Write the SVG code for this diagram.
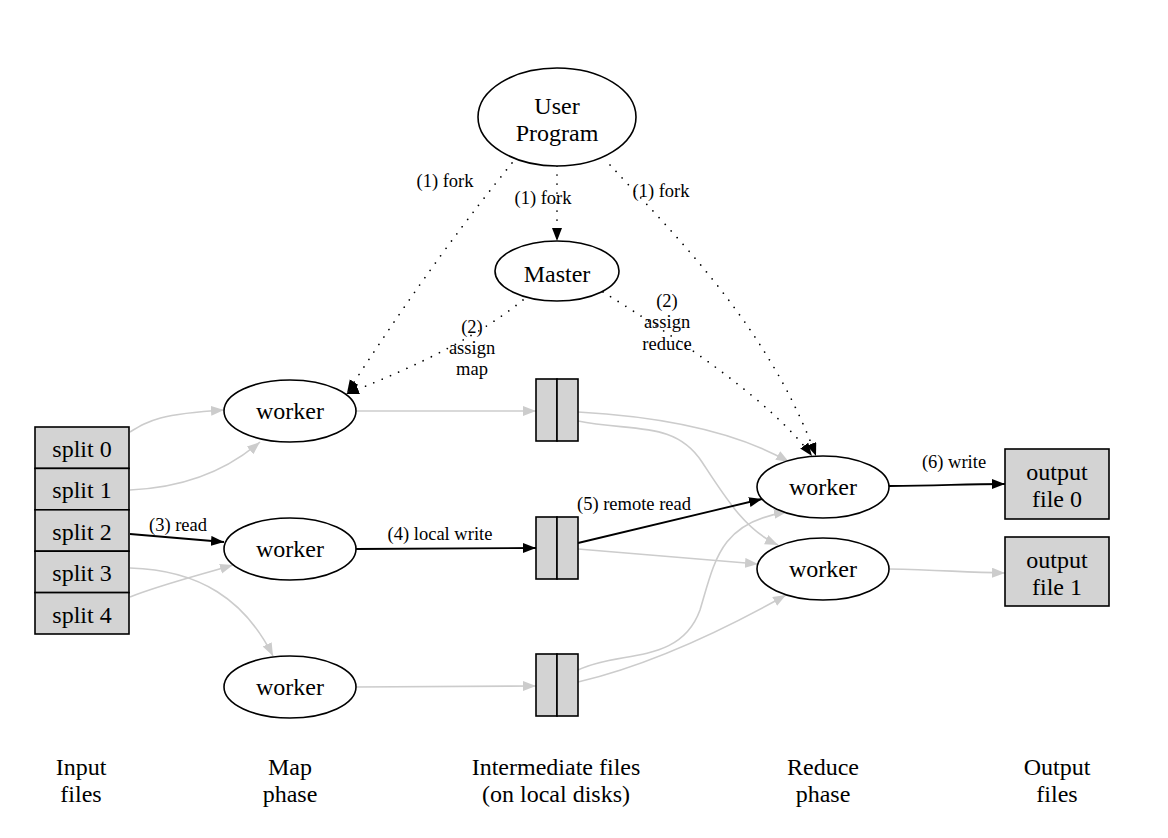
<svg xmlns="http://www.w3.org/2000/svg" width="1168" height="838" viewBox="0 0 1168 838">
<style>
text{font-family:"Liberation Serif","Times New Roman",serif;fill:#000}
.n{font-size:24px;text-anchor:middle}
.l{font-size:18.5px;text-anchor:middle}
.node{fill:#fff;stroke:#000;stroke-width:1.6}
.box{fill:#d3d3d3;stroke:#000;stroke-width:1.6}
.g{fill:none;stroke:#cccccc;stroke-width:1.6}
.b{fill:none;stroke:#000;stroke-width:1.8}
.d{fill:none;stroke:#000;stroke-width:1.7;stroke-dasharray:0.01 9;stroke-linecap:round}
</style>
<defs>
<marker id="ab" markerUnits="userSpaceOnUse" markerWidth="15" markerHeight="11" refX="13" refY="5" orient="auto"><path d="M0,0 L13,5 L0,10 z" fill="#000"/></marker>
<marker id="ag" markerUnits="userSpaceOnUse" markerWidth="15" markerHeight="11" refX="13" refY="5" orient="auto"><path d="M0,0 L13,5 L0,10 z" fill="#cccccc"/></marker>
</defs>
<rect width="1168" height="838" fill="#fff"/>

<g id="connectors">
<path class="d" d="M557,166 L557,241" marker-end="url(#ab)"/>
<path class="d" d="M512,163 C470,215 420,280 347,393" marker-end="url(#ab)"/>
<path class="d" d="M610,165 C680,240 770,330 816,456" marker-end="url(#ab)"/>
<path class="d" d="M523,300 C480,335 420,365 346,394" marker-end="url(#ab)"/>
<path class="d" d="M603,292 C680,340 770,400 812,456" marker-end="url(#ab)"/>

<path class="g" d="M130,432 C150,420 160,414 224,410" marker-end="url(#ag)"/>
<path class="g" d="M130,490 C180,488 225,472 260,442" marker-end="url(#ag)"/>
<path class="b" d="M130,534 L224,542" marker-end="url(#ab)"/>
<path class="g" d="M130,568 C200,570 245,600 273,656" marker-end="url(#ag)"/>
<path class="g" d="M130,597 C160,585 200,575 233,565" marker-end="url(#ag)"/>

<path class="g" d="M355,411 L536,411" marker-end="url(#ag)"/>
<path class="b" d="M355,549 L536,548" marker-end="url(#ab)"/>
<path class="g" d="M355,687 L536,686" marker-end="url(#ag)"/>

<path class="g" d="M578,412 C650,416 730,428 789,462" marker-end="url(#ag)"/>
<path class="g" d="M578,421 C630,432 675,420 702,462 C725,497 745,530 778,545" marker-end="url(#ag)"/>
<path class="b" d="M578,543 L762,499" marker-end="url(#ab)"/>
<path class="g" d="M578,549 L758,564" marker-end="url(#ag)"/>
<path class="g" d="M578,670 C620,650 680,665 700,610 C715,560 720,522 787,512" marker-end="url(#ag)"/>
<path class="g" d="M578,682 C650,665 720,632 786,595" marker-end="url(#ag)"/>

<path class="b" d="M889,486 C940,486 960,484 1005,484" marker-end="url(#ab)"/>
<path class="g" d="M889,569 C940,570 960,572 1005,573" marker-end="url(#ag)"/>

<text class="l" x="445" y="187">(1) fork</text>
<text class="l" x="543" y="204">(1) fork</text>
<text class="l" x="661" y="197">(1) fork</text>
<text class="l" x="472" y="333">(2)</text>
<text class="l" x="472" y="354">assign</text>
<text class="l" x="472" y="375">map</text>
<text class="l" x="667" y="307">(2)</text>
<text class="l" x="667" y="328">assign</text>
<text class="l" x="667" y="350">reduce</text>
<text class="l" x="178" y="531">(3) read</text>
<text class="l" x="440" y="540">(4) local write</text>
<text class="l" x="634" y="510">(5) remote read</text>
<text class="l" x="954" y="468">(6) write</text>
</g>

<g id="user-program">
<ellipse class="node" cx="557" cy="117" rx="79" ry="49"/>
<text class="n" x="557" y="114">User</text>
<text class="n" x="557" y="141">Program</text>
</g>
<g id="master">
<ellipse class="node" cx="557" cy="271" rx="62" ry="30"/>
<text class="n" x="557" y="282">Master</text>
</g>

<g id="input-files">
<rect class="box" x="35" y="427" width="94" height="41.4"/>
<rect class="box" x="35" y="468.4" width="94" height="41.4"/>
<rect class="box" x="35" y="509.8" width="94" height="41.4"/>
<rect class="box" x="35" y="551.2" width="94" height="41.4"/>
<rect class="box" x="35" y="592.6" width="94" height="41.4"/>
<text class="n" x="82" y="457">split 0</text>
<text class="n" x="82" y="498.4">split 1</text>
<text class="n" x="82" y="539.8">split 2</text>
<text class="n" x="82" y="581.2">split 3</text>
<text class="n" x="82" y="622.6">split 4</text>
</g>

<g id="map-worker-1">
<ellipse class="node" cx="290" cy="411" rx="66" ry="31"/>
<text class="n" x="290" y="419">worker</text>
</g>
<g id="map-worker-2">
<ellipse class="node" cx="290" cy="549" rx="66" ry="31"/>
<text class="n" x="290" y="557">worker</text>
</g>
<g id="map-worker-3">
<ellipse class="node" cx="290" cy="687" rx="66" ry="31"/>
<text class="n" x="290" y="695">worker</text>
</g>

<g id="intermediate-1">
<rect class="box" x="536" y="379" width="21" height="62"/>
<rect class="box" x="557" y="379" width="21" height="62"/>
</g>
<g id="intermediate-2">
<rect class="box" x="536" y="517" width="21" height="62"/>
<rect class="box" x="557" y="517" width="21" height="62"/>
</g>
<g id="intermediate-3">
<rect class="box" x="536" y="654" width="21" height="62"/>
<rect class="box" x="557" y="654" width="21" height="62"/>
</g>

<g id="reduce-worker-1">
<ellipse class="node" cx="823" cy="487" rx="66" ry="31"/>
<text class="n" x="823" y="495">worker</text>
</g>
<g id="reduce-worker-2">
<ellipse class="node" cx="823" cy="569" rx="66" ry="31"/>
<text class="n" x="823" y="577">worker</text>
</g>

<g id="output-file-0">
<rect class="box" x="1005" y="449" width="104" height="70"/>
<text class="n" x="1057" y="480">output</text>
<text class="n" x="1057" y="507">file 0</text>
</g>
<g id="output-file-1">
<rect class="box" x="1005" y="537" width="104" height="69"/>
<text class="n" x="1057" y="568">output</text>
<text class="n" x="1057" y="595">file 1</text>
</g>

<g id="phase-labels">
<text class="n" x="81" y="775">Input</text>
<text class="n" x="81" y="802">files</text>
<text class="n" x="290" y="775">Map</text>
<text class="n" x="290" y="802">phase</text>
<text class="n" x="556" y="775">Intermediate files</text>
<text class="n" x="556" y="802">(on local disks)</text>
<text class="n" x="823" y="775">Reduce</text>
<text class="n" x="823" y="802">phase</text>
<text class="n" x="1057" y="775">Output</text>
<text class="n" x="1057" y="802">files</text>
</g>
</svg>
